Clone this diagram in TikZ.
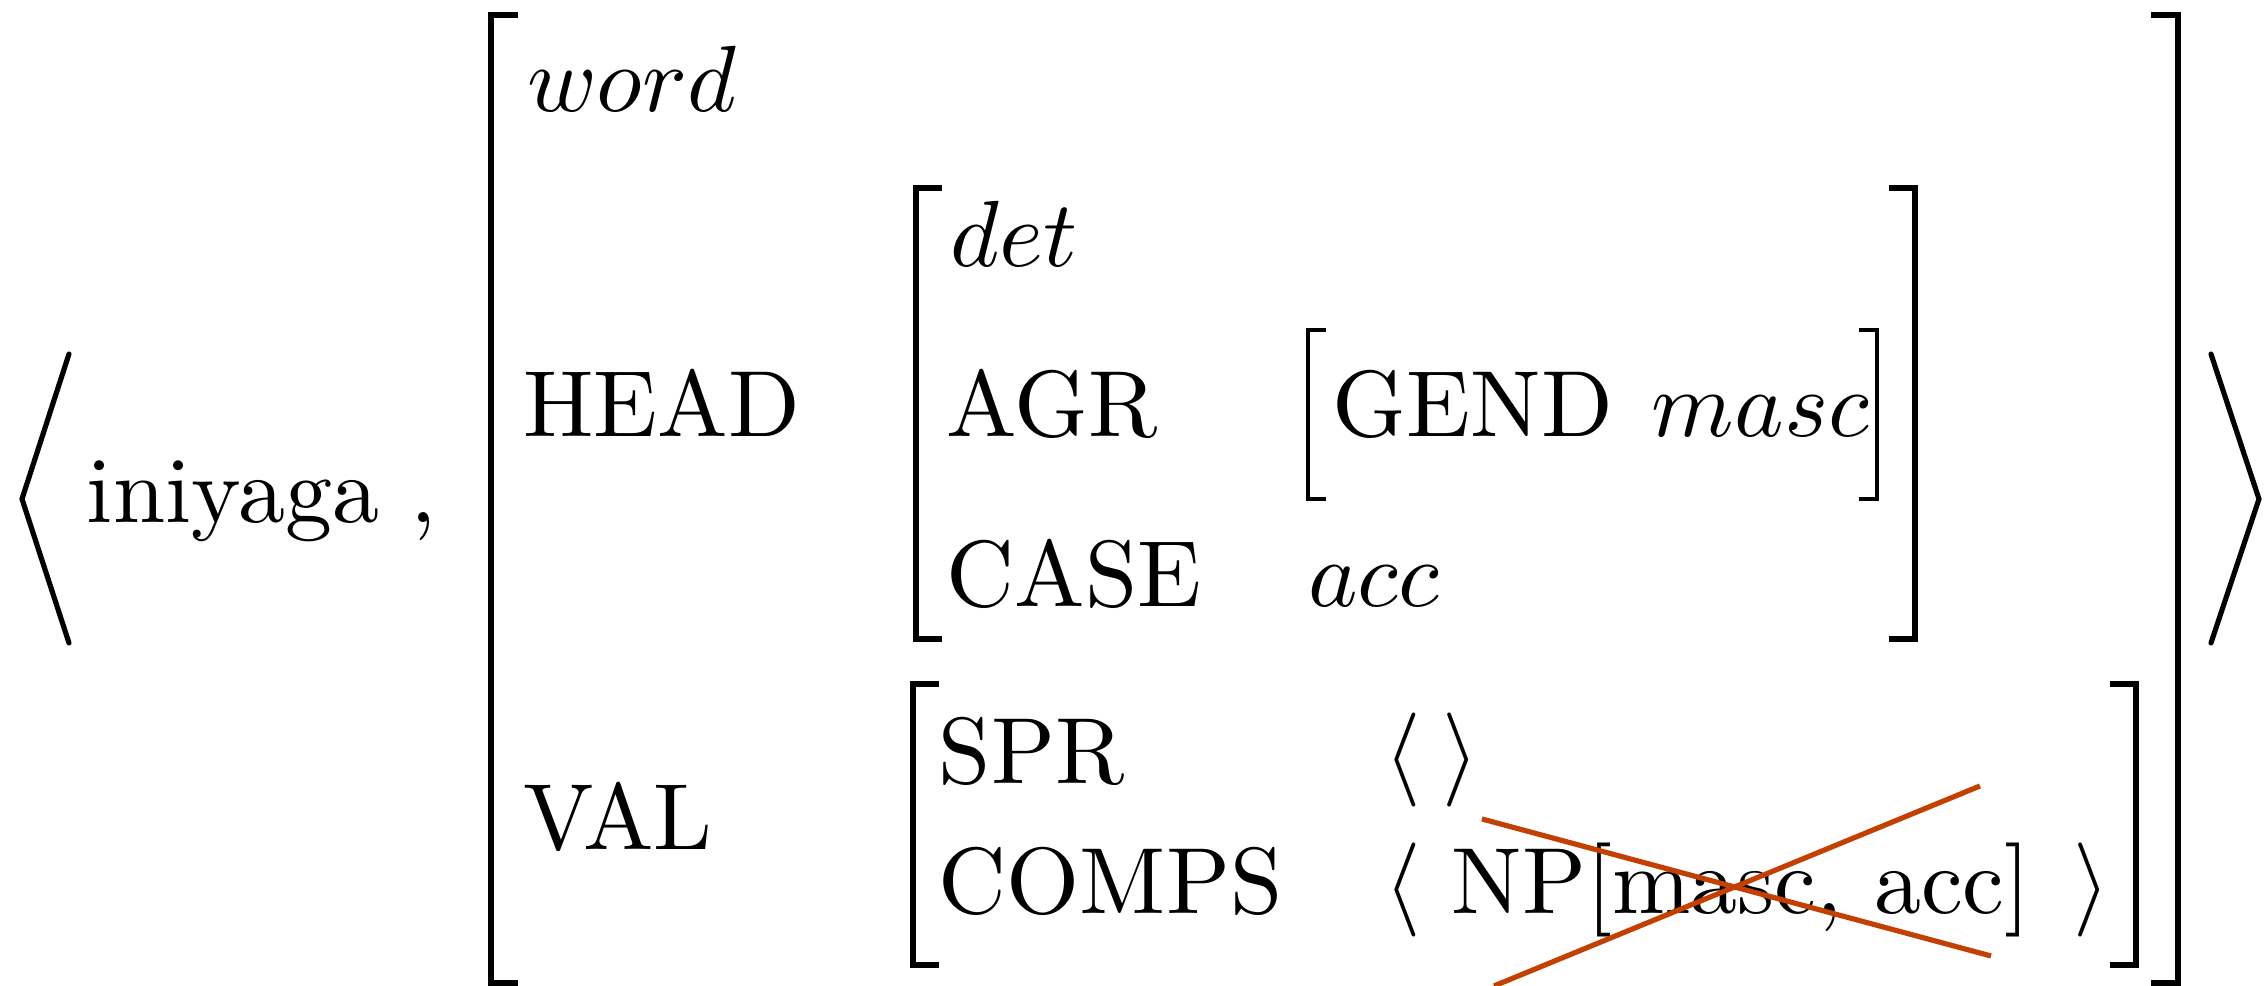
\documentclass[tikz,border=0pt]{standalone}
\usepackage{fontspec}
\definecolor{xred}{RGB}{196,64,0}
\begin{document}
\begin{tikzpicture}[x=0.10638pt,y=-0.10638pt,
  lbl/.style={anchor=base west,inner sep=0pt,outer sep=0pt},
  bigbr/.style={line width=0.68pt,line cap=butt,line join=miter},
  smallbr/.style={line width=0.37pt,line cap=butt,line join=miter},
  angbr/.style={line width=0.55pt,line cap=round,line join=miter},
  redx/.style={xred,line width=0.55pt}]
\useasboundingbox (0,0) rectangle (2266,986);
% big angle brackets
\draw[angbr] (69,354) -- (22,499) -- (69,643);
\draw[angbr] (2211,354) -- (2259,499) -- (2211,643);
\node[lbl] (form) at (87,523) {iniyaga ,};
% outer brackets
\draw[bigbr] (518,15) -- (491,15) -- (491,983) -- (518,983);
\draw[bigbr] (2151,15) -- (2178,15) -- (2178,983) -- (2151,983);
\node[lbl] (word) at (527,112) {$word$};
\node[lbl] (head) at (523,437) {HEAD};
\node[lbl] (val) at (523,850) {VAL};
% head brackets
\draw[bigbr] (942,188) -- (916,188) -- (916,639) -- (942,639);
\draw[bigbr] (1889,188) -- (1915,188) -- (1915,639) -- (1889,639);
\node[lbl] (det) at (951,267) {$det$};
\node[lbl] (agr) at (947,437) {AGR};
\node[lbl] (case) at (947,607) {CASE};
\node[lbl] (acc) at (1308,607) {$acc$};
% gend bracket
\draw[smallbr] (1326,330) -- (1308,330) -- (1308,499) -- (1326,499);
\draw[smallbr] (1859,330) -- (1877,330) -- (1877,499) -- (1859,499);
\node[lbl] (gend) at (1333,437) {GEND};
\node[lbl] (masc) at (1652,437) {$masc$};
% val brackets
\draw[bigbr] (939,684) -- (913,684) -- (913,965) -- (939,965);
\draw[bigbr] (2110,684) -- (2136,684) -- (2136,965) -- (2110,965);
\node[lbl] (spr) at (939,784) {SPR};
\node[lbl] (comps) at (939,914) {COMPS};
\node[lbl] (sl) at (1385,784) {$\langle$};
\node[lbl] (sr) at (1443,784) {$\rangle$};
\node[lbl] (cl) at (1385,914) {$\langle$};
\node[lbl] (np) at (1452,914) {NP[masc, acc]};
\node[lbl] (cr) at (2074,914) {$\rangle$};
% red cross
\coordinate (a1) at (1482,819);
\coordinate (a2) at (1991,956);
\coordinate (b1) at (1494,986);
\coordinate (b2) at (1980,786);
\draw[redx] (a1) -- (a2);
\draw[redx] (b1) -- (b2);
\end{tikzpicture}
\end{document}
